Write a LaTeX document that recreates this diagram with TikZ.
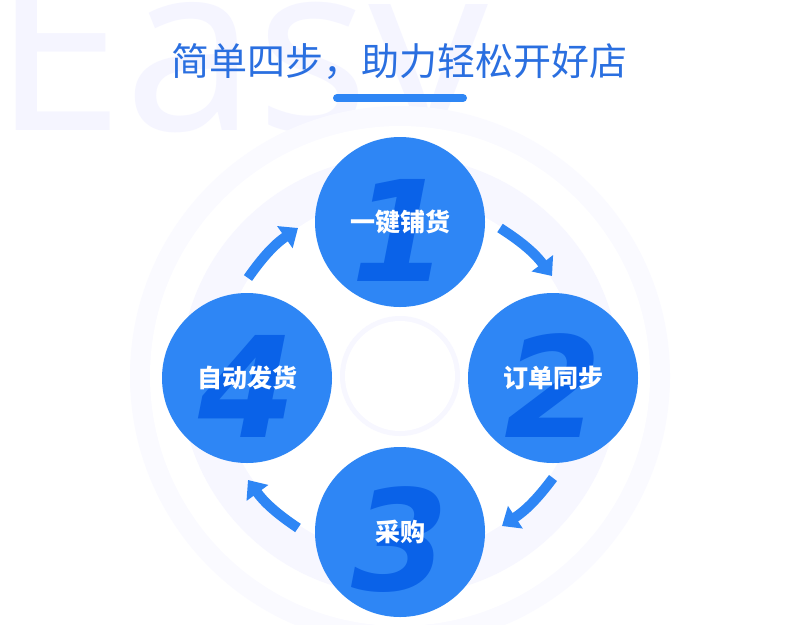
\documentclass[tikz,border=0pt]{standalone}
\usepackage{fontspec}
\setmainfont{Noto Sans}
\newfontfamily\cjk{Noto Sans CJK SC}
\newfontfamily\numfont{DejaVu Sans}
\usetikzlibrary{arrows.meta}
\definecolor{StepBlue}{HTML}{2E86F5}
\definecolor{NumBlue}{HTML}{0A62E8}
\definecolor{TitleBlue}{HTML}{2A6FE0}
\tikzset{
  StepCircle/.style={circle, fill=StepBlue, minimum size=170pt, inner sep=0pt},
  StepNum/.style={text=NumBlue, font={\numfont\bfseries\itshape\fontsize{140pt}{140pt}\selectfont}},
  StepText/.style={text=white, font={\cjk\bfseries\fontsize{25pt}{28pt}\selectfont}},
  Flow/.style={-{Triangle[length=16pt,width=26pt]}, line width=10pt, draw=StepBlue}
}
\begin{document}
\begin{tikzpicture}[x=1pt,y=-1pt]
\useasboundingbox (0,0) rectangle (799,624);
\fill[white] (0,0) rectangle (799,624);
% watermark and rings
\node[text=blue!4, font={\fontsize{235pt}{235pt}\selectfont}, anchor=base west] (easy) at (-10,130) {Easy};
\fill[blue!2] (400,376) circle (270);
\fill[white] (400,376) circle (250);
\fill[blue!3] (400,376) circle (220);
\fill[white] (400,376) circle (180);
\fill[blue!3] (400,376) circle (60);
\fill[white] (400,376) circle (55);
% title
\node[text=TitleBlue, font={\cjk\fontsize{38pt}{44pt}\selectfont}] (title) at (399,62) {简单四步，助力轻松开好店};
\draw[line width=8pt, line cap=round, StepBlue] (337,98) -- (463,98);
% steps
\foreach \nm/\x/\y/\n/\txt in {s1/400/222/1/一键铺货, s2/553/378/2/订单同步, s3/400/532/3/采购, s4/247/378/4/自动发货}{
  \node[StepCircle] (\nm) at (\x,\y) {};
  \node[StepNum] at (\x,\y+8) {\n};
  \node[StepText] at (\x,\y) {\txt};
}
% arrows
\coordinate (a1) at (500,228); \coordinate (b1) at (552,276);
\coordinate (a2) at (553,478); \coordinate (b2) at (502,526);
\coordinate (a3) at (298,528); \coordinate (b3) at (248,480);
\coordinate (a4) at (248,278); \coordinate (b4) at (298,228);
\draw[Flow] (a1) to[bend left=10] (b1);
\draw[Flow] (a2) to[bend left=10] (b2);
\draw[Flow] (a3) to[bend left=10] (b3);
\draw[Flow] (a4) to[bend left=10] (b4);
\end{tikzpicture}
\end{document}
